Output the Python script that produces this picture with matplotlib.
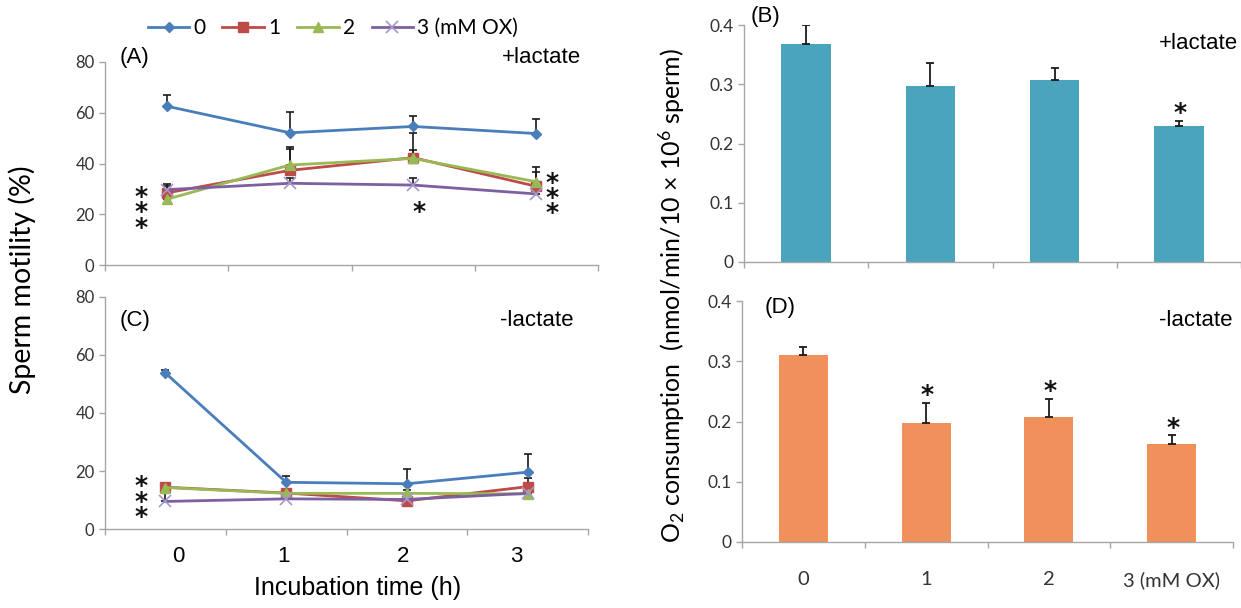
import matplotlib
matplotlib.use("Agg")
import matplotlib.pyplot as plt
from matplotlib.transforms import blended_transform_factory
import numpy as np

plt.rcParams['mathtext.fontset'] = 'custom'
plt.rcParams['mathtext.rm'] = 'Lato'
plt.rcParams['mathtext.it'] = 'Lato:italic'

# incubation time (h) and OX concentrations
hours = [0, 1, 2, 3]
ox_labels = ['0', '1', '2', '3 (mM OX)']

# sperm motility (%), +lactate
mot_lac_0 = [62.6, 52.1, 54.6, 51.8]
mot_lac_0_err = [4.4, 8.2, 4.1, 5.6]
mot_lac_1 = [28.4, 37.3, 42.3, 31.0]
mot_lac_1_err = [3.4, 9.2, 9.8, 7.7]
mot_lac_2 = [25.9, 39.4, 42.0, 32.8]
mot_lac_2_err = [2.0, 6.2, 3.5, 4.0]
mot_lac_3 = [29.7, 32.2, 31.5, 28.0]
mot_lac_3_err = [1.5, 2.0, 2.7, 2.0]

# sperm motility (%), -lactate
mot_nolac_0 = [53.8, 16.1, 15.6, 19.6]
mot_nolac_0_err = [1.0, 2.2, 5.1, 6.3]
mot_nolac_1 = [14.4, 12.4, 9.7, 14.6]
mot_nolac_1_err = [1.0, 1.0, 1.0, 3.0]
mot_nolac_2 = [14.3, 12.3, 12.3, 12.1]
mot_nolac_2_err = [1.0, 1.0, 1.0, 1.0]
mot_nolac_3 = [9.5, 10.4, 10.2, 12.3]
mot_nolac_3_err = [3.5, 1.0, 1.0, 1.0]

# O2 consumption (nmol/min/10x10^6 sperm)
o2_lac = [0.368, 0.297, 0.308, 0.229]
o2_lac_err = [0.032, 0.039, 0.019, 0.009]
o2_lac_sig = [False, False, False, True]
o2_nolac = [0.311, 0.197, 0.208, 0.163]
o2_nolac_err = [0.012, 0.034, 0.030, 0.014]
o2_nolac_sig = [False, True, True, True]

# significance stars on the motility panels: (x, y of column centre, count)
stars_lac = [(-0.21, 20.7, 3), (2.05, 21.0, 1), (3.13, 26.4, 3)]
stars_nolac = [(-0.20, 9.4, 3)]

line_colors = ['#4A7EBB', '#BE4B48', '#98B954', '#7D60A0']
line_markers = ['D', 's', '^', 'x']
marker_sizes = [5, 7, 7, 8]
spine_col = '#A6A6A6'
tick_col = '#333333'
ARIAL = 'Liberation Sans'
CAL = 'Lato'

W, H = 1241, 608
fig = plt.figure(figsize=(W / 100, H / 100), dpi=100)


def px_axes(left, top, right, bottom):
    return fig.add_axes([left / W, 1 - bottom / H, (right - left) / W, (bottom - top) / H])


def style_axes(ax):
    for s in ['top', 'right']:
        ax.spines[s].set_visible(False)
    for s in ['left', 'bottom']:
        ax.spines[s].set_color(spine_col)
        ax.spines[s].set_linewidth(1.0)
    ax.tick_params(which='major', color=spine_col, length=4, width=1.0)
    ax.set_xlim(-0.5, 3.5)
    ax.set_xticks([-0.5, 0.5, 1.5, 2.5, 3.5])
    ax.set_xticklabels([])


def motility_panel(ax, series, errs, stars):
    style_axes(ax)
    handles = []
    for i, (y, e) in enumerate(zip(series, errs)):
        ax.errorbar(hours, y, yerr=[np.zeros(len(e)), e], fmt='none',
                    ecolor='#1a1a1a', elinewidth=1.2, capsize=3, capthick=1.2, zorder=2)
        mec = '#A597CC' if line_markers[i] == 'x' else line_colors[i]
        h, = ax.plot(hours, y, color=line_colors[i], lw=2, marker=line_markers[i],
                     ms=marker_sizes[i], mec=mec, mew=1.2 if i == 3 else 1,
                     zorder=3)
        handles.append(h)
    for sx, sy, n in stars:
        ax.text(sx, sy, '\n'.join(['*'] * n), ha='center', va='center', fontsize=18,
                linespacing=0.55, fontfamily='DejaVu Sans', fontweight='bold',
                color='#111111')
    ax.set_ylim(0, 80)
    ax.set_yticks([0, 20, 40, 60, 80])
    ax.set_yticklabels(['0', '20', '40', '60', '80'], fontfamily=CAL, fontsize=12,
                       color=tick_col)
    return handles


def o2_panel(ax, vals, errs, sig, color):
    style_axes(ax)
    ax.bar(hours, vals, width=0.4, color=color, zorder=2)
    ax.errorbar(hours, vals, yerr=[np.zeros(len(errs)), errs], fmt='none',
                ecolor='#1a1a1a', elinewidth=1.3, capsize=3, capthick=1.3, zorder=3)
    for x, v, e, s in zip(hours, vals, errs, sig):
        if s:
            ax.annotate('*', (x, v + e), xytext=(1, -3), textcoords='offset points',
                        ha='center', va='bottom', fontsize=18, fontweight='bold',
                        fontfamily='DejaVu Sans', color='#111111')
    ax.set_ylim(0, 0.4)
    ax.set_yticks([0, 0.1, 0.2, 0.3, 0.4])
    ax.set_yticklabels(['0', '0.1', '0.2', '0.3', '0.4'], fontfamily=CAL,
                       fontsize=12.5, color=tick_col)


# (A) motility with lactate
ax_a = px_axes(105, 62, 598, 265)
handles = motility_panel(ax_a, [mot_lac_0, mot_lac_1, mot_lac_2, mot_lac_3],
                         [mot_lac_0_err, mot_lac_1_err, mot_lac_2_err, mot_lac_3_err],
                         stars_lac)
ax_a.text(0.06, 1.02, '(A)', transform=ax_a.transAxes, ha='center', va='center',
          fontsize=16, fontfamily=ARIAL)
ax_a.text(0.966, 1.02, '+lactate', transform=ax_a.transAxes, ha='right', va='center',
          fontsize=16, fontfamily=ARIAL)

# (C) motility without lactate
ax_c = px_axes(105, 297, 588, 529)
motility_panel(ax_c, [mot_nolac_0, mot_nolac_1, mot_nolac_2, mot_nolac_3],
               [mot_nolac_0_err, mot_nolac_1_err, mot_nolac_2_err, mot_nolac_3_err],
               stars_nolac)
ax_c.text(0.062, 0.90, '(C)', transform=ax_c.transAxes, ha='center', va='center',
          fontsize=16, fontfamily=ARIAL)
ax_c.text(0.971, 0.90, '-lactate', transform=ax_c.transAxes, ha='right', va='center',
          fontsize=16, fontfamily=ARIAL)
trans = blended_transform_factory(ax_c.transData, ax_c.transAxes)
label_shift = [0.11, -0.02, -0.03, -0.09]
for h, d in zip(hours, label_shift):
    ax_c.text(h + d, -0.12, str(h), transform=trans, ha='center', va='center',
              fontsize=16, fontfamily=ARIAL)
fig.text(358 / W, 1 - 588 / H, 'Incubation time (h)', ha='center', va='center',
         fontsize=18, fontfamily=ARIAL)
fig.text(22 / W, 1 - 280 / H, 'Sperm motility (%)', rotation=90, ha='center',
         va='center', fontsize=20.5, fontfamily=CAL)

# (B) O2 consumption with lactate
ax_b = px_axes(744, 25, 1241, 262)
o2_panel(ax_b, o2_lac, o2_lac_err, o2_lac_sig, '#4AA5BC')
ax_b.text(0.044, 1.034, '(B)', transform=ax_b.transAxes, ha='center', va='center',
          fontsize=16, fontfamily=ARIAL)
ax_b.text(0.994, 0.924, '+lactate', transform=ax_b.transAxes, ha='right', va='center',
          fontsize=16, fontfamily=ARIAL)

# (D) O2 consumption without lactate
ax_d = px_axes(742, 301, 1233, 542)
o2_panel(ax_d, o2_nolac, o2_nolac_err, o2_nolac_sig, '#F0905A')
ax_d.text(0.077, 0.971, '(D)', transform=ax_d.transAxes, ha='center', va='center',
          fontsize=16, fontfamily=ARIAL)
ax_d.text(0.998, 0.921, '-lactate', transform=ax_d.transAxes, ha='right', va='center',
          fontsize=16, fontfamily=ARIAL)
ax_d.set_xticks(hours, minor=True)
ax_d.set_xticklabels(ox_labels, minor=True, fontfamily=CAL, fontsize=14.5, color=tick_col)
ax_d.tick_params(which='minor', length=0, pad=21)

fig.text(672 / W, 1 - 295 / H, r'O$_2$ consumption  (nmol/min/10 × 10$^6$ sperm)',
         rotation=90, ha='center', va='center', fontsize=18, fontfamily=CAL)

fig.legend(handles, ox_labels, loc='center', bbox_to_anchor=(333 / W, 1 - 28 / H),
           ncol=4, frameon=False, handlelength=2.0, handletextpad=0.2,
           columnspacing=0.8, prop={'family': CAL, 'size': 15})

fig.savefig('out.png', dpi=100)
